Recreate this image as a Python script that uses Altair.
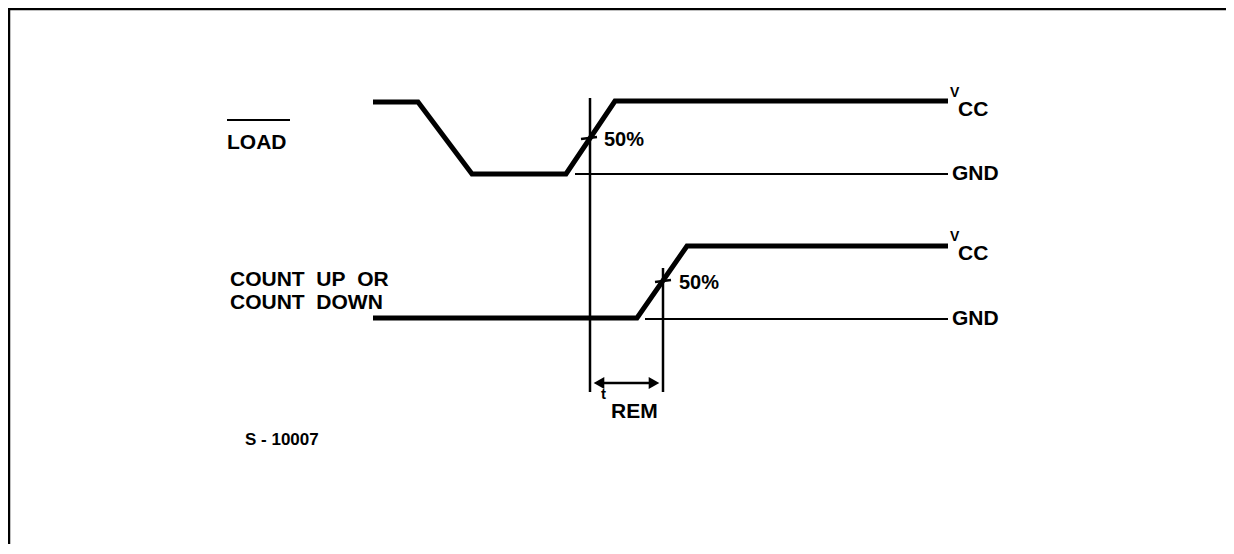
import altair as alt
import pandas as pd

# ---- data (reference pixel coordinates) ----
load_x = [373, 418, 472, 566, 615, 948]
load_y = [102, 102, 174, 174, 101, 101]
count_x = [373, 637, 687, 948]
count_y = [318, 318, 246, 246]

# straight segments: x, y, x2, y2, width
seg_x = [575, 645, 590, 663, 581, 655, 598, 227, 8, 9]
seg_y = [174, 319, 98, 268, 139, 282, 383, 120, 9, 8]
seg_x2 = [948, 948, 590, 663, 597, 671, 655, 290, 1226, 9]
seg_y2 = [174, 319, 392, 392, 137, 280, 383, 120, 9, 546]
seg_w = [2, 2, 2.5, 2.5, 2.5, 2.5, 2.5, 2, 2.5, 2.5]

arrow_x = [599, 654]
arrow_y = [383, 383]
arrow_shape = ["triangle-left", "triangle-right"]

text_x = [227, 230, 230, 604, 679, 950, 958, 952, 950, 958, 952, 601, 611, 245]
text_y = [143, 280, 303, 140, 283, 93, 110, 174, 237, 254, 319, 394, 412, 440]
text_s = [21, 21, 21, 20, 20, 14, 21, 21, 14, 21, 21, 15, 21, 17]
text_t = ["LOAD", "COUNT\u00a0 UP\u00a0 OR", "COUNT\u00a0 DOWN", "50%", "50%",
          "V", "CC", "GND", "V", "CC", "GND", "t", "REM", "S - 10007"]

# ---- chart ----
W, H = 1218, 536
X0, Y0 = 8, 8
xs = alt.Scale(domain=[X0, X0 + W], nice=False, zero=False)
ys = alt.Scale(domain=[Y0, Y0 + H], nice=False, zero=False, reverse=True)

wave = pd.DataFrame({
    "x": load_x + count_x,
    "y": load_y + count_y,
    "sig": ["load"] * len(load_x) + ["count"] * len(count_x),
    "i": list(range(len(load_x))) + list(range(len(count_x))),
})
segs = pd.DataFrame({"x": seg_x, "y": seg_y, "x2": seg_x2, "y2": seg_y2, "w": seg_w})
arrows = pd.DataFrame({"x": arrow_x, "y": arrow_y, "shape": arrow_shape})
texts = pd.DataFrame({"x": text_x, "y": text_y, "s": text_s, "t": text_t})

waves = alt.Chart(wave).mark_line(color="black", strokeWidth=5, strokeJoin="miter").encode(
    x=alt.X("x:Q", scale=xs, axis=None),
    y=alt.Y("y:Q", scale=ys, axis=None),
    detail="sig:N",
    order="i:Q",
)

rules = alt.Chart(segs).mark_rule(color="black").encode(
    x=alt.X("x:Q", scale=xs, axis=None),
    y=alt.Y("y:Q", scale=ys, axis=None),
    x2="x2:Q",
    y2="y2:Q",
    strokeWidth=alt.StrokeWidth("w:Q", scale=None),
)

heads = alt.Chart(arrows).mark_point(filled=True, color="black", size=150, opacity=1).encode(
    x=alt.X("x:Q", scale=xs, axis=None),
    y=alt.Y("y:Q", scale=ys, axis=None),
    shape=alt.Shape("shape:N", scale=None),
)

labels = alt.Chart(texts).mark_text(
    align="left", baseline="middle", font="Liberation Sans", fontWeight="bold", color="black"
).encode(
    x=alt.X("x:Q", scale=xs, axis=None),
    y=alt.Y("y:Q", scale=ys, axis=None),
    text="t:N",
    size=alt.Size("s:Q", scale=None),
)

chart = alt.layer(rules, waves, heads, labels).properties(
    width=W, height=H, padding=0, autosize="none", background="white"
).configure_view(stroke=None)

chart.save("out.html", embed_options={"renderer": "svg", "actions": False})
